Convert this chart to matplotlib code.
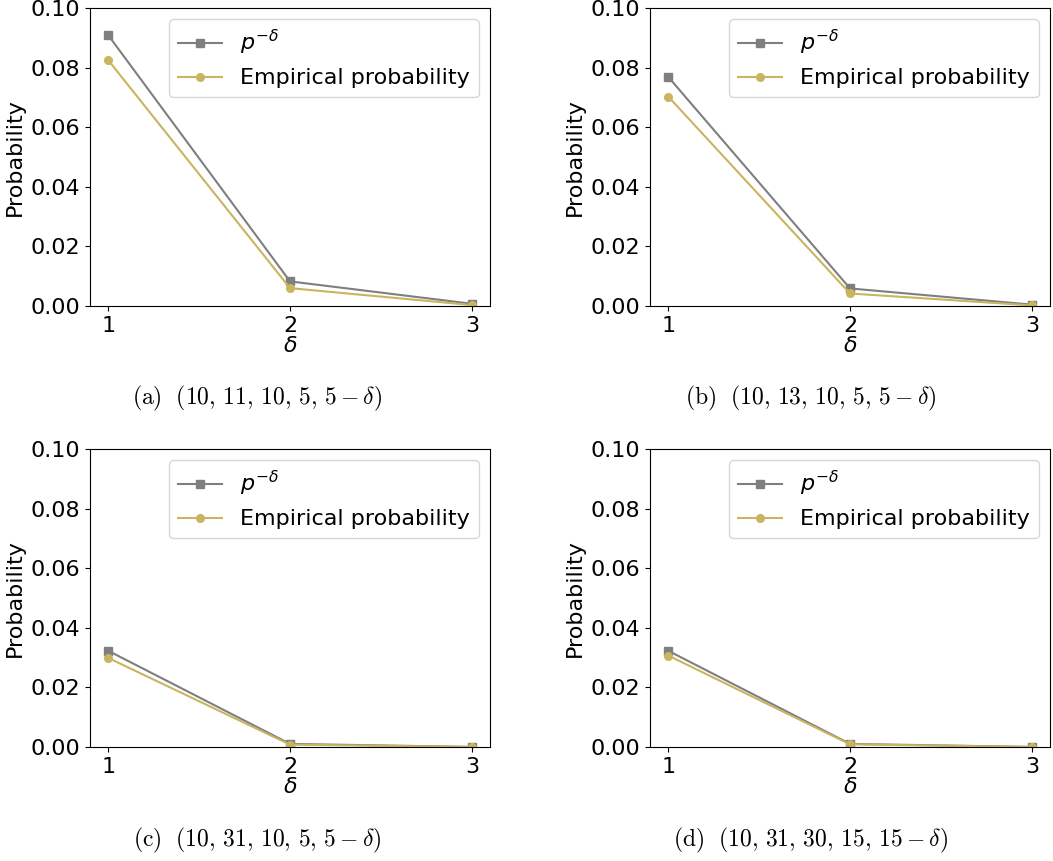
import matplotlib
matplotlib.use("Agg")
import matplotlib.pyplot as plt

delta = [1, 2, 3]

# p^-delta for each panel
theory_a = [0.0909, 0.00826, 0.00075]
theory_b = [0.0769, 0.0059, 0.00046]
theory_c = [0.0323, 0.00104, 0.00003]
theory_d = [0.0323, 0.00104, 0.00003]

# empirical probabilities
emp_a = [0.0825, 0.0060, 0.0003]
emp_b = [0.0703, 0.0042, 0.0002]
emp_c = [0.0299, 0.0008, 0.0]
emp_d = [0.0307, 0.0009, 0.0]

captions = [
    r"$\mathrm{(a)}\ \ (10,\,11,\,10,\,5,\,5 - \delta)$",
    r"$\mathrm{(b)}\ \ (10,\,13,\,10,\,5,\,5 - \delta)$",
    r"$\mathrm{(c)}\ \ (10,\,31,\,10,\,5,\,5 - \delta)$",
    r"$\mathrm{(d)}\ \ (10,\,31,\,30,\,15,\,15 - \delta)$",
]

theory = [theory_a, theory_b, theory_c, theory_d]
emp = [emp_a, emp_b, emp_c, emp_d]

fig = plt.figure(figsize=(10.53, 8.61), dpi=100)

W, H = 1053, 861
boxes = [(90, 8), (650, 8), (90, 449), (650, 449)]
cap_pos = [(257, 398), (811, 398), (257, 840), (811, 840)]
aw, ah = 400, 298

gray = "#7f7f7f"
gold = "#c9b45f"

for i in range(4):
    x0, y0 = boxes[i]
    ax = fig.add_axes([x0 / W, 1 - (y0 + ah) / H, aw / W, ah / H])
    ax.plot(delta, theory[i], color=gray, marker="s", markersize=5.5,
            linewidth=1.5, label=r"$p^{-\delta}$")
    ax.plot(delta, emp[i], color=gold, marker="o", markersize=5.5,
            linewidth=1.5, label="Empirical probability")
    ax.set_ylim(0, 0.1)
    ax.set_xticks([1, 2, 3])
    ax.set_yticks([0, 0.02, 0.04, 0.06, 0.08, 0.10])
    ax.set_yticklabels(["0.00", "0.02", "0.04", "0.06", "0.08", "0.10"])
    ax.tick_params(labelsize=16)
    ax.set_xlabel(r"$\delta$", fontsize=16, labelpad=0)
    ax.set_ylabel("Probability", fontsize=16)
    ax.legend(loc="upper right", fontsize=16)
    cx, cy = cap_pos[i]
    fig.text(cx / W, 1 - cy / H, captions[i], ha="center", va="center",
             fontsize=17, math_fontfamily="cm")

fig.savefig("out.png", dpi=100)
